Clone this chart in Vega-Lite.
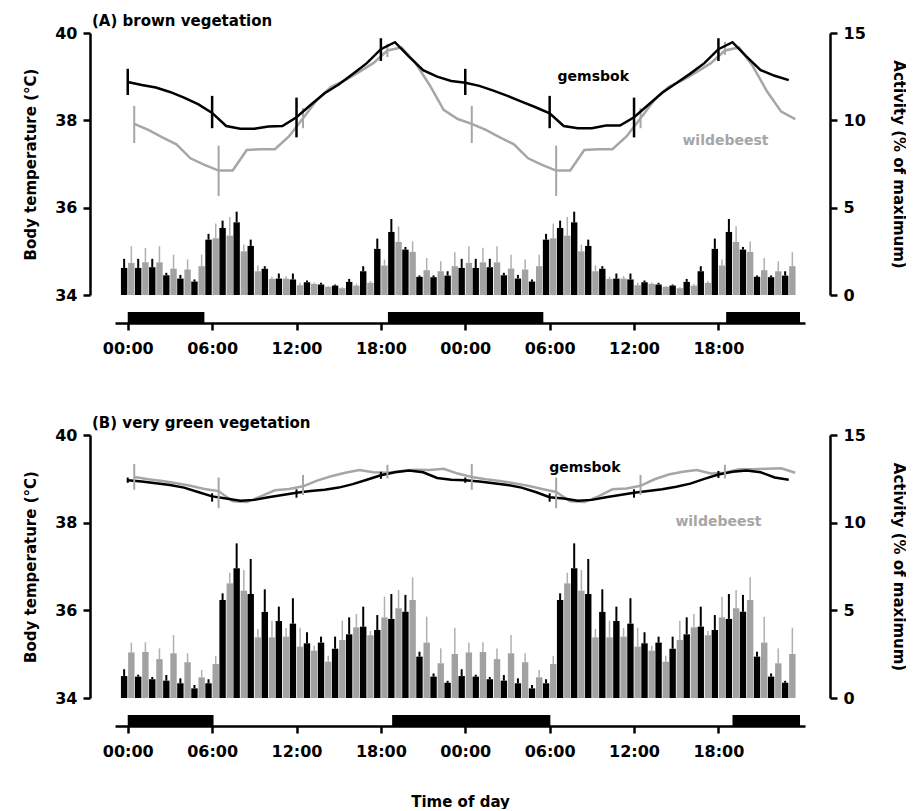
{
  "$schema": "https://vega.github.io/schema/vega-lite/v6.json",
  "padding": {"left": 23, "top": 14, "right": 0, "bottom": 0},
  "spacing": 60,
  "datasets": {
    "actA": [
      {"hour":0,"sp":"gemsbok","act":1.55,"up":2.07},{"hour":1,"sp":"gemsbok","act":1.55,"up":2.07},{"hour":2,"sp":"gemsbok","act":1.59,"up":2.07},{"hour":3,"sp":"gemsbok","act":1.13,"up":1.27},{"hour":4,"sp":"gemsbok","act":0.94,"up":1.15},{"hour":5,"sp":"gemsbok","act":0.77,"up":0.89},{"hour":6,"sp":"gemsbok","act":3.17,"up":3.5},{"hour":7,"sp":"gemsbok","act":3.84,"up":4.26},{"hour":8,"sp":"gemsbok","act":4.16,"up":4.77},{"hour":9,"sp":"gemsbok","act":2.81,"up":3.17},{"hour":10,"sp":"gemsbok","act":1.5,"up":1.65},{"hour":11,"sp":"gemsbok","act":0.94,"up":1.23},{"hour":12,"sp":"gemsbok","act":0.89,"up":1.23},{"hour":13,"sp":"gemsbok","act":0.73,"up":0.83},{"hour":14,"sp":"gemsbok","act":0.6,"up":0.7},{"hour":15,"sp":"gemsbok","act":0.54,"up":0.6},{"hour":16,"sp":"gemsbok","act":0.75,"up":0.92},{"hour":17,"sp":"gemsbok","act":1.36,"up":1.65},{"hour":18,"sp":"gemsbok","act":2.64,"up":3.23},{"hour":19,"sp":"gemsbok","act":3.61,"up":4.35},{"hour":20,"sp":"gemsbok","act":2.6,"up":2.75},{"hour":21,"sp":"gemsbok","act":1.04,"up":1.12},{"hour":22,"sp":"gemsbok","act":1.02,"up":1.12},{"hour":23,"sp":"gemsbok","act":1.11,"up":1.36},
      {"hour":24,"sp":"gemsbok","act":1.55,"up":2.07},{"hour":25,"sp":"gemsbok","act":1.55,"up":2.07},{"hour":26,"sp":"gemsbok","act":1.59,"up":2.07},{"hour":27,"sp":"gemsbok","act":1.13,"up":1.27},{"hour":28,"sp":"gemsbok","act":0.94,"up":1.15},{"hour":29,"sp":"gemsbok","act":0.77,"up":0.89},{"hour":30,"sp":"gemsbok","act":3.17,"up":3.5},{"hour":31,"sp":"gemsbok","act":3.84,"up":4.26},{"hour":32,"sp":"gemsbok","act":4.16,"up":4.77},{"hour":33,"sp":"gemsbok","act":2.81,"up":3.17},{"hour":34,"sp":"gemsbok","act":1.5,"up":1.65},{"hour":35,"sp":"gemsbok","act":0.94,"up":1.23},{"hour":36,"sp":"gemsbok","act":0.89,"up":1.23},{"hour":37,"sp":"gemsbok","act":0.73,"up":0.83},{"hour":38,"sp":"gemsbok","act":0.6,"up":0.7},{"hour":39,"sp":"gemsbok","act":0.54,"up":0.6},{"hour":40,"sp":"gemsbok","act":0.75,"up":0.92},{"hour":41,"sp":"gemsbok","act":1.36,"up":1.65},{"hour":42,"sp":"gemsbok","act":2.64,"up":3.23},{"hour":43,"sp":"gemsbok","act":3.61,"up":4.35},{"hour":44,"sp":"gemsbok","act":2.6,"up":2.75},{"hour":45,"sp":"gemsbok","act":1.04,"up":1.12},{"hour":46,"sp":"gemsbok","act":1.02,"up":1.12},{"hour":47,"sp":"gemsbok","act":1.11,"up":1.36},
      {"hour":0,"sp":"wildebeest","act":1.84,"up":2.79},{"hour":1,"sp":"wildebeest","act":1.87,"up":2.7},{"hour":2,"sp":"wildebeest","act":1.87,"up":2.79},{"hour":3,"sp":"wildebeest","act":1.51,"up":2.31},{"hour":4,"sp":"wildebeest","act":1.46,"up":2.03},{"hour":5,"sp":"wildebeest","act":1.65,"up":2.31},{"hour":6,"sp":"wildebeest","act":3.25,"up":4.09},{"hour":7,"sp":"wildebeest","act":3.4,"up":4.47},{"hour":8,"sp":"wildebeest","act":2.5,"up":2.89},{"hour":9,"sp":"wildebeest","act":1.36,"up":1.69},{"hour":10,"sp":"wildebeest","act":0.92,"up":1.04},{"hour":11,"sp":"wildebeest","act":0.94,"up":1.08},{"hour":12,"sp":"wildebeest","act":0.56,"up":0.7},{"hour":13,"sp":"wildebeest","act":0.64,"up":0.72},{"hour":14,"sp":"wildebeest","act":0.47,"up":0.52},{"hour":15,"sp":"wildebeest","act":0.39,"up":0.45},{"hour":16,"sp":"wildebeest","act":0.54,"up":0.65},{"hour":17,"sp":"wildebeest","act":0.7,"up":0.8},{"hour":18,"sp":"wildebeest","act":1.69,"up":2.03},{"hour":19,"sp":"wildebeest","act":3.04,"up":3.93},{"hour":20,"sp":"wildebeest","act":2.47,"up":3.07},{"hour":21,"sp":"wildebeest","act":1.42,"up":2.12},{"hour":22,"sp":"wildebeest","act":1.36,"up":1.93},{"hour":23,"sp":"wildebeest","act":1.65,"up":2.45},
      {"hour":24,"sp":"wildebeest","act":1.84,"up":2.79},{"hour":25,"sp":"wildebeest","act":1.87,"up":2.7},{"hour":26,"sp":"wildebeest","act":1.87,"up":2.79},{"hour":27,"sp":"wildebeest","act":1.51,"up":2.31},{"hour":28,"sp":"wildebeest","act":1.46,"up":2.03},{"hour":29,"sp":"wildebeest","act":1.65,"up":2.31},{"hour":30,"sp":"wildebeest","act":3.25,"up":4.09},{"hour":31,"sp":"wildebeest","act":3.4,"up":4.47},{"hour":32,"sp":"wildebeest","act":2.5,"up":2.89},{"hour":33,"sp":"wildebeest","act":1.36,"up":1.69},{"hour":34,"sp":"wildebeest","act":0.92,"up":1.04},{"hour":35,"sp":"wildebeest","act":0.94,"up":1.08},{"hour":36,"sp":"wildebeest","act":0.56,"up":0.7},{"hour":37,"sp":"wildebeest","act":0.64,"up":0.72},{"hour":38,"sp":"wildebeest","act":0.47,"up":0.52},{"hour":39,"sp":"wildebeest","act":0.39,"up":0.45},{"hour":40,"sp":"wildebeest","act":0.54,"up":0.65},{"hour":41,"sp":"wildebeest","act":0.7,"up":0.8},{"hour":42,"sp":"wildebeest","act":1.69,"up":2.03},{"hour":43,"sp":"wildebeest","act":3.04,"up":3.93},{"hour":44,"sp":"wildebeest","act":2.47,"up":3.07},{"hour":45,"sp":"wildebeest","act":1.42,"up":2.12},{"hour":46,"sp":"wildebeest","act":1.36,"up":1.93},{"hour":47,"sp":"wildebeest","act":1.65,"up":2.45}
    ],
    "actB": [
      {"hour":0,"sp":"gemsbok","act":1.25,"up":1.64},{"hour":1,"sp":"gemsbok","act":1.22,"up":1.33},{"hour":2,"sp":"gemsbok","act":1.07,"up":1.2},{"hour":3,"sp":"gemsbok","act":0.99,"up":1.31},{"hour":4,"sp":"gemsbok","act":0.84,"up":1.12},{"hour":5,"sp":"gemsbok","act":0.55,"up":0.74},{"hour":6,"sp":"gemsbok","act":0.84,"up":1.07},{"hour":7,"sp":"gemsbok","act":5.59,"up":5.97},{"hour":8,"sp":"gemsbok","act":7.4,"up":8.82},{"hour":9,"sp":"gemsbok","act":5.93,"up":7.93},{"hour":10,"sp":"gemsbok","act":4.91,"up":6.2},{"hour":11,"sp":"gemsbok","act":4.39,"up":5.21},{"hour":12,"sp":"gemsbok","act":4.24,"up":5.69},{"hour":13,"sp":"gemsbok","act":3.12,"up":3.75},{"hour":14,"sp":"gemsbok","act":3.16,"up":3.5},{"hour":15,"sp":"gemsbok","act":2.81,"up":3.5},{"hour":16,"sp":"gemsbok","act":3.63,"up":4.6},{"hour":17,"sp":"gemsbok","act":4.07,"up":5.21},{"hour":18,"sp":"gemsbok","act":3.88,"up":4.73},{"hour":19,"sp":"gemsbok","act":4.51,"up":5.93},{"hour":20,"sp":"gemsbok","act":4.92,"up":5.88},{"hour":21,"sp":"gemsbok","act":2.36,"up":2.64},{"hour":22,"sp":"gemsbok","act":1.22,"up":1.4},{"hour":23,"sp":"gemsbok","act":0.87,"up":0.98},
      {"hour":24,"sp":"gemsbok","act":1.25,"up":1.64},{"hour":25,"sp":"gemsbok","act":1.22,"up":1.33},{"hour":26,"sp":"gemsbok","act":1.07,"up":1.2},{"hour":27,"sp":"gemsbok","act":0.99,"up":1.31},{"hour":28,"sp":"gemsbok","act":0.84,"up":1.12},{"hour":29,"sp":"gemsbok","act":0.55,"up":0.74},{"hour":30,"sp":"gemsbok","act":0.84,"up":1.07},{"hour":31,"sp":"gemsbok","act":5.59,"up":5.97},{"hour":32,"sp":"gemsbok","act":7.4,"up":8.82},{"hour":33,"sp":"gemsbok","act":5.93,"up":7.93},{"hour":34,"sp":"gemsbok","act":4.91,"up":6.2},{"hour":35,"sp":"gemsbok","act":4.39,"up":5.21},{"hour":36,"sp":"gemsbok","act":4.24,"up":5.69},{"hour":37,"sp":"gemsbok","act":3.12,"up":3.75},{"hour":38,"sp":"gemsbok","act":3.16,"up":3.5},{"hour":39,"sp":"gemsbok","act":2.81,"up":3.5},{"hour":40,"sp":"gemsbok","act":3.63,"up":4.6},{"hour":41,"sp":"gemsbok","act":4.07,"up":5.21},{"hour":42,"sp":"gemsbok","act":3.88,"up":4.73},{"hour":43,"sp":"gemsbok","act":4.51,"up":5.93},{"hour":44,"sp":"gemsbok","act":4.92,"up":5.88},{"hour":45,"sp":"gemsbok","act":2.36,"up":2.64},{"hour":46,"sp":"gemsbok","act":1.22,"up":1.4},{"hour":47,"sp":"gemsbok","act":0.87,"up":0.98},
      {"hour":0,"sp":"wildebeest","act":2.6,"up":3.16},{"hour":1,"sp":"wildebeest","act":2.62,"up":3.18},{"hour":2,"sp":"wildebeest","act":2.22,"up":2.83},{"hour":3,"sp":"wildebeest","act":2.55,"up":3.59},{"hour":4,"sp":"wildebeest","act":2.04,"up":2.55},{"hour":5,"sp":"wildebeest","act":1.18,"up":1.6},{"hour":6,"sp":"wildebeest","act":1.94,"up":2.4},{"hour":7,"sp":"wildebeest","act":6.54,"up":7.15},{"hour":8,"sp":"wildebeest","act":6.12,"up":7.3},{"hour":9,"sp":"wildebeest","act":3.46,"up":3.94},{"hour":10,"sp":"wildebeest","act":3.46,"up":4.41},{"hour":11,"sp":"wildebeest","act":3.5,"up":3.99},{"hour":12,"sp":"wildebeest","act":2.93,"up":4.01},{"hour":13,"sp":"wildebeest","act":2.7,"up":2.98},{"hour":14,"sp":"wildebeest","act":2.07,"up":2.41},{"hour":15,"sp":"wildebeest","act":3.31,"up":4.41},{"hour":16,"sp":"wildebeest","act":4.03,"up":4.79},{"hour":17,"sp":"wildebeest","act":3.58,"up":3.82},{"hour":18,"sp":"wildebeest","act":4.6,"up":5.78},{"hour":19,"sp":"wildebeest","act":5.12,"up":6.16},{"hour":20,"sp":"wildebeest","act":5.59,"up":6.88},{"hour":21,"sp":"wildebeest","act":3.16,"up":4.64},{"hour":22,"sp":"wildebeest","act":1.98,"up":2.83},{"hour":23,"sp":"wildebeest","act":2.51,"up":4.01},
      {"hour":24,"sp":"wildebeest","act":2.6,"up":3.16},{"hour":25,"sp":"wildebeest","act":2.62,"up":3.18},{"hour":26,"sp":"wildebeest","act":2.22,"up":2.83},{"hour":27,"sp":"wildebeest","act":2.55,"up":3.59},{"hour":28,"sp":"wildebeest","act":2.04,"up":2.55},{"hour":29,"sp":"wildebeest","act":1.18,"up":1.6},{"hour":30,"sp":"wildebeest","act":1.94,"up":2.4},{"hour":31,"sp":"wildebeest","act":6.54,"up":7.15},{"hour":32,"sp":"wildebeest","act":6.12,"up":7.3},{"hour":33,"sp":"wildebeest","act":3.46,"up":3.94},{"hour":34,"sp":"wildebeest","act":3.46,"up":4.41},{"hour":35,"sp":"wildebeest","act":3.5,"up":3.99},{"hour":36,"sp":"wildebeest","act":2.93,"up":4.01},{"hour":37,"sp":"wildebeest","act":2.7,"up":2.98},{"hour":38,"sp":"wildebeest","act":2.07,"up":2.41},{"hour":39,"sp":"wildebeest","act":3.31,"up":4.41},{"hour":40,"sp":"wildebeest","act":4.03,"up":4.79},{"hour":41,"sp":"wildebeest","act":3.58,"up":3.82},{"hour":42,"sp":"wildebeest","act":4.6,"up":5.78},{"hour":43,"sp":"wildebeest","act":5.12,"up":6.16},{"hour":44,"sp":"wildebeest","act":5.59,"up":6.88},{"hour":45,"sp":"wildebeest","act":3.16,"up":4.64},{"hour":46,"sp":"wildebeest","act":1.98,"up":2.83},{"hour":47,"sp":"wildebeest","act":2.51,"up":4.01}
    ],
    "tbA": [
      {"hour":0,"sp":"gemsbok","tb":38.88,"lo":38.58,"hi":39.18},{"hour":1,"sp":"gemsbok","tb":38.81},{"hour":2,"sp":"gemsbok","tb":38.75},{"hour":3,"sp":"gemsbok","tb":38.65},{"hour":4,"sp":"gemsbok","tb":38.52},{"hour":5,"sp":"gemsbok","tb":38.37},{"hour":6,"sp":"gemsbok","tb":38.17,"lo":37.82,"hi":38.56},{"hour":7,"sp":"gemsbok","tb":37.87},{"hour":8,"sp":"gemsbok","tb":37.81},{"hour":9,"sp":"gemsbok","tb":37.81},{"hour":10,"sp":"gemsbok","tb":37.86},{"hour":11,"sp":"gemsbok","tb":37.87},{"hour":12,"sp":"gemsbok","tb":38.07,"lo":37.61,"hi":38.52},{"hour":13,"sp":"gemsbok","tb":38.35},{"hour":14,"sp":"gemsbok","tb":38.62},{"hour":15,"sp":"gemsbok","tb":38.82},{"hour":16,"sp":"gemsbok","tb":39.06},{"hour":17,"sp":"gemsbok","tb":39.31},{"hour":18,"sp":"gemsbok","tb":39.63,"lo":39.36,"hi":39.88},{"hour":19,"sp":"gemsbok","tb":39.79},{"hour":20,"sp":"gemsbok","tb":39.46},{"hour":21,"sp":"gemsbok","tb":39.15},{"hour":22,"sp":"gemsbok","tb":39.0},{"hour":23,"sp":"gemsbok","tb":38.9},
      {"hour":24,"sp":"gemsbok","tb":38.86,"lo":38.58,"hi":39.18},{"hour":25,"sp":"gemsbok","tb":38.79},{"hour":26,"sp":"gemsbok","tb":38.68},{"hour":27,"sp":"gemsbok","tb":38.56},{"hour":28,"sp":"gemsbok","tb":38.43},{"hour":29,"sp":"gemsbok","tb":38.3},{"hour":30,"sp":"gemsbok","tb":38.16,"lo":37.82,"hi":38.56},{"hour":31,"sp":"gemsbok","tb":37.87},{"hour":32,"sp":"gemsbok","tb":37.82},{"hour":33,"sp":"gemsbok","tb":37.82},{"hour":34,"sp":"gemsbok","tb":37.88},{"hour":35,"sp":"gemsbok","tb":37.88},{"hour":36,"sp":"gemsbok","tb":38.07,"lo":37.61,"hi":38.52},{"hour":37,"sp":"gemsbok","tb":38.35},{"hour":38,"sp":"gemsbok","tb":38.63},{"hour":39,"sp":"gemsbok","tb":38.85},{"hour":40,"sp":"gemsbok","tb":39.07},{"hour":41,"sp":"gemsbok","tb":39.31},{"hour":42,"sp":"gemsbok","tb":39.63,"lo":39.36,"hi":39.88},{"hour":43,"sp":"gemsbok","tb":39.79},{"hour":44,"sp":"gemsbok","tb":39.46},{"hour":45,"sp":"gemsbok","tb":39.15},{"hour":46,"sp":"gemsbok","tb":39.02},{"hour":47,"sp":"gemsbok","tb":38.92},
      {"hour":0,"sp":"wildebeest","tb":37.92,"lo":37.48,"hi":38.33},{"hour":1,"sp":"wildebeest","tb":37.78},{"hour":2,"sp":"wildebeest","tb":37.61},{"hour":3,"sp":"wildebeest","tb":37.45},{"hour":4,"sp":"wildebeest","tb":37.13},{"hour":5,"sp":"wildebeest","tb":36.98},{"hour":6,"sp":"wildebeest","tb":36.85,"lo":36.27,"hi":37.42},{"hour":7,"sp":"wildebeest","tb":36.85},{"hour":8,"sp":"wildebeest","tb":37.32},{"hour":9,"sp":"wildebeest","tb":37.34},{"hour":10,"sp":"wildebeest","tb":37.34},{"hour":11,"sp":"wildebeest","tb":37.63},{"hour":12,"sp":"wildebeest","tb":38.05,"lo":37.82,"hi":38.28},{"hour":13,"sp":"wildebeest","tb":38.47},{"hour":14,"sp":"wildebeest","tb":38.77},{"hour":15,"sp":"wildebeest","tb":38.92},{"hour":16,"sp":"wildebeest","tb":39.11},{"hour":17,"sp":"wildebeest","tb":39.31},{"hour":18,"sp":"wildebeest","tb":39.6,"lo":39.45,"hi":39.75},{"hour":19,"sp":"wildebeest","tb":39.67},{"hour":20,"sp":"wildebeest","tb":39.31},{"hour":21,"sp":"wildebeest","tb":38.81},{"hour":22,"sp":"wildebeest","tb":38.24},{"hour":23,"sp":"wildebeest","tb":38.03},
      {"hour":24,"sp":"wildebeest","tb":37.92,"lo":37.48,"hi":38.33},{"hour":25,"sp":"wildebeest","tb":37.78},{"hour":26,"sp":"wildebeest","tb":37.61},{"hour":27,"sp":"wildebeest","tb":37.45},{"hour":28,"sp":"wildebeest","tb":37.13},{"hour":29,"sp":"wildebeest","tb":36.98},{"hour":30,"sp":"wildebeest","tb":36.85,"lo":36.27,"hi":37.42},{"hour":31,"sp":"wildebeest","tb":36.85},{"hour":32,"sp":"wildebeest","tb":37.32},{"hour":33,"sp":"wildebeest","tb":37.34},{"hour":34,"sp":"wildebeest","tb":37.34},{"hour":35,"sp":"wildebeest","tb":37.63},{"hour":36,"sp":"wildebeest","tb":38.05,"lo":37.82,"hi":38.28},{"hour":37,"sp":"wildebeest","tb":38.47},{"hour":38,"sp":"wildebeest","tb":38.77},{"hour":39,"sp":"wildebeest","tb":38.92},{"hour":40,"sp":"wildebeest","tb":39.11},{"hour":41,"sp":"wildebeest","tb":39.31},{"hour":42,"sp":"wildebeest","tb":39.6,"lo":39.5,"hi":39.8},{"hour":43,"sp":"wildebeest","tb":39.67},{"hour":44,"sp":"wildebeest","tb":39.23},{"hour":45,"sp":"wildebeest","tb":38.66},{"hour":46,"sp":"wildebeest","tb":38.2},{"hour":47,"sp":"wildebeest","tb":38.03}
    ],
    "tbB": [
      {"hour":0,"sp":"gemsbok","tb":38.97,"lo":38.91,"hi":39.03},{"hour":1,"sp":"gemsbok","tb":38.94},{"hour":2,"sp":"gemsbok","tb":38.9},{"hour":3,"sp":"gemsbok","tb":38.86},{"hour":4,"sp":"gemsbok","tb":38.8},{"hour":5,"sp":"gemsbok","tb":38.7},{"hour":6,"sp":"gemsbok","tb":38.6,"lo":38.48,"hi":38.67},{"hour":7,"sp":"gemsbok","tb":38.55},{"hour":8,"sp":"gemsbok","tb":38.5},{"hour":9,"sp":"gemsbok","tb":38.52},{"hour":10,"sp":"gemsbok","tb":38.58},{"hour":11,"sp":"gemsbok","tb":38.63},{"hour":12,"sp":"gemsbok","tb":38.68,"lo":38.57,"hi":38.76},{"hour":13,"sp":"gemsbok","tb":38.72},{"hour":14,"sp":"gemsbok","tb":38.75},{"hour":15,"sp":"gemsbok","tb":38.8},{"hour":16,"sp":"gemsbok","tb":38.88},{"hour":17,"sp":"gemsbok","tb":38.98},{"hour":18,"sp":"gemsbok","tb":39.08,"lo":39.0,"hi":39.16},{"hour":19,"sp":"gemsbok","tb":39.15},{"hour":20,"sp":"gemsbok","tb":39.19},{"hour":21,"sp":"gemsbok","tb":39.15},{"hour":22,"sp":"gemsbok","tb":39.02},{"hour":23,"sp":"gemsbok","tb":38.98},
      {"hour":24,"sp":"gemsbok","tb":38.97,"lo":38.91,"hi":39.03},{"hour":25,"sp":"gemsbok","tb":38.94},{"hour":26,"sp":"gemsbok","tb":38.9},{"hour":27,"sp":"gemsbok","tb":38.86},{"hour":28,"sp":"gemsbok","tb":38.8},{"hour":29,"sp":"gemsbok","tb":38.7},{"hour":30,"sp":"gemsbok","tb":38.58,"lo":38.48,"hi":38.67},{"hour":31,"sp":"gemsbok","tb":38.55},{"hour":32,"sp":"gemsbok","tb":38.5},{"hour":33,"sp":"gemsbok","tb":38.52},{"hour":34,"sp":"gemsbok","tb":38.58},{"hour":35,"sp":"gemsbok","tb":38.63},{"hour":36,"sp":"gemsbok","tb":38.68,"lo":38.57,"hi":38.76},{"hour":37,"sp":"gemsbok","tb":38.72},{"hour":38,"sp":"gemsbok","tb":38.76},{"hour":39,"sp":"gemsbok","tb":38.82},{"hour":40,"sp":"gemsbok","tb":38.89},{"hour":41,"sp":"gemsbok","tb":39.0},{"hour":42,"sp":"gemsbok","tb":39.1,"lo":39.02,"hi":39.18},{"hour":43,"sp":"gemsbok","tb":39.16},{"hour":44,"sp":"gemsbok","tb":39.19},{"hour":45,"sp":"gemsbok","tb":39.15},{"hour":46,"sp":"gemsbok","tb":39.03},{"hour":47,"sp":"gemsbok","tb":38.98},
      {"hour":0,"sp":"wildebeest","tb":39.04,"lo":38.75,"hi":39.34},{"hour":1,"sp":"wildebeest","tb":38.99},{"hour":2,"sp":"wildebeest","tb":38.95},{"hour":3,"sp":"wildebeest","tb":38.9},{"hour":4,"sp":"wildebeest","tb":38.84},{"hour":5,"sp":"wildebeest","tb":38.77},{"hour":6,"sp":"wildebeest","tb":38.72,"lo":38.33,"hi":39.03},{"hour":7,"sp":"wildebeest","tb":38.49},{"hour":8,"sp":"wildebeest","tb":38.47},{"hour":9,"sp":"wildebeest","tb":38.6},{"hour":10,"sp":"wildebeest","tb":38.74},{"hour":11,"sp":"wildebeest","tb":38.77},{"hour":12,"sp":"wildebeest","tb":38.83,"lo":38.63,"hi":39.09},{"hour":13,"sp":"wildebeest","tb":38.96},{"hour":14,"sp":"wildebeest","tb":39.06},{"hour":15,"sp":"wildebeest","tb":39.14},{"hour":16,"sp":"wildebeest","tb":39.2},{"hour":17,"sp":"wildebeest","tb":39.15},{"hour":18,"sp":"wildebeest","tb":39.14,"lo":39.01,"hi":39.32},{"hour":19,"sp":"wildebeest","tb":39.18},{"hour":20,"sp":"wildebeest","tb":39.21},{"hour":21,"sp":"wildebeest","tb":39.2},{"hour":22,"sp":"wildebeest","tb":39.23},{"hour":23,"sp":"wildebeest","tb":39.12},
      {"hour":24,"sp":"wildebeest","tb":39.04,"lo":38.75,"hi":39.34},{"hour":25,"sp":"wildebeest","tb":38.99},{"hour":26,"sp":"wildebeest","tb":38.95},{"hour":27,"sp":"wildebeest","tb":38.9},{"hour":28,"sp":"wildebeest","tb":38.84},{"hour":29,"sp":"wildebeest","tb":38.77},{"hour":30,"sp":"wildebeest","tb":38.7,"lo":38.33,"hi":39.03},{"hour":31,"sp":"wildebeest","tb":38.49},{"hour":32,"sp":"wildebeest","tb":38.47},{"hour":33,"sp":"wildebeest","tb":38.6},{"hour":34,"sp":"wildebeest","tb":38.76},{"hour":35,"sp":"wildebeest","tb":38.78},{"hour":36,"sp":"wildebeest","tb":38.84,"lo":38.63,"hi":39.09},{"hour":37,"sp":"wildebeest","tb":38.99},{"hour":38,"sp":"wildebeest","tb":39.1},{"hour":39,"sp":"wildebeest","tb":39.16},{"hour":40,"sp":"wildebeest","tb":39.2},{"hour":41,"sp":"wildebeest","tb":39.12},{"hour":42,"sp":"wildebeest","tb":39.14,"lo":39.01,"hi":39.32},{"hour":43,"sp":"wildebeest","tb":39.22},{"hour":44,"sp":"wildebeest","tb":39.22},{"hour":45,"sp":"wildebeest","tb":39.23},{"hour":46,"sp":"wildebeest","tb":39.24},{"hour":47,"sp":"wildebeest","tb":39.14}
    ],
    "nightA": [{"start":0,"end":5.45},{"start":18.5,"end":29.55},{"start":42.55,"end":47.8}],
    "nightB": [{"start":0,"end":6.1},{"start":18.8,"end":30.05},{"start":43.0,"end":47.8}]
  },
  "vconcat": [
    {
      "title": {"text": "(A) brown vegetation", "anchor": "start", "frame": "group", "dx": -23, "offset": -4, "fontSize": 15, "fontWeight": "bold", "font": "DejaVu Sans", "color": "black"},
      "width": 690,
      "height": 262,
      "layer": [
        {
          "data": {"name": "actA"},
          "encoding": {
            "x": {"field": "hour", "type": "quantitative", "scale": {"domain": [-0.55, 47.8], "nice": false, "zero": false}, "title": null},
            "y": {"field": "act", "type": "quantitative", "scale": {"domain": [0, 15], "nice": false}, "title": "Activity (% of maximum)", "axis": {"orient": "right", "values": [0, 5, 10, 15], "offset": 25, "labelPadding": 6, "titlePadding": 25}}
          },
          "layer": [
            {"transform": [{"filter": "datum.sp == 'gemsbok'"}], "mark": {"type": "rule", "color": "black", "strokeWidth": 2, "xOffset": -3.6}, "encoding": {"y2": {"field": "up"}}},
            {"transform": [{"filter": "datum.sp == 'wildebeest'"}], "mark": {"type": "rule", "color": "#b0b0b0", "strokeWidth": 1.5, "xOffset": 3.6}, "encoding": {"y2": {"field": "up"}}},
            {"transform": [{"filter": "datum.sp == 'gemsbok'"}], "mark": {"type": "bar", "orient": "vertical", "color": "black", "size": 6.4, "xOffset": -3.6}},
            {"transform": [{"filter": "datum.sp == 'wildebeest'"}], "mark": {"type": "bar", "orient": "vertical", "color": "#a2a2a5", "size": 6.4, "xOffset": 3.6}}
          ]
        },
        {
          "layer": [
            {
              "data": {"name": "nightA"},
              "mark": {"type": "rect", "color": "black"},
              "encoding": {
                "x": {"field": "start", "type": "quantitative", "scale": {"domain": [-0.55, 47.8], "nice": false, "zero": false}, "title": null},
                "x2": {"field": "end"},
                "y": {"datum": 33.36, "type": "quantitative", "scale": {"domain": [34, 40], "nice": false, "zero": false}, "title": "Body temperature (°C)"},
                "y2": {"datum": 33.61}
              }
            },
            {
              "data": {"name": "tbA"},
              "encoding": {
                "x": {"field": "hour", "type": "quantitative", "scale": {"domain": [-0.55, 47.8], "nice": false, "zero": false}, "title": null, "axis": {"values": [0, 6, 12, 18, 24, 30, 36, 42], "labelExpr": "(datum.value % 24 < 10 ? '0' : '') + (datum.value % 24) + ':00'", "offset": 28, "labelPadding": 10}},
                "y": {"field": "tb", "type": "quantitative", "scale": {"domain": [34, 40], "nice": false, "zero": false}, "title": "Body temperature (°C)", "axis": {"orient": "left", "values": [34, 36, 38, 40], "offset": 25, "labelPadding": 6, "titlePadding": 16}}
              },
              "layer": [
                {"transform": [{"filter": "datum.sp == 'wildebeest'"}], "mark": {"type": "line", "color": "#a6a6a6", "strokeWidth": 2.5, "xOffset": 6.5}},
                {"transform": [{"filter": "datum.sp == 'wildebeest' && isValid(datum.lo)"}], "mark": {"type": "rule", "color": "#a6a6a6", "strokeWidth": 2, "xOffset": 6.5}, "encoding": {"y": {"field": "lo", "type": "quantitative", "title": "Body temperature (°C)"}, "y2": {"field": "hi"}}},
                {"transform": [{"filter": "datum.sp == 'gemsbok'"}], "mark": {"type": "line", "color": "black", "strokeWidth": 2.5}},
                {"transform": [{"filter": "datum.sp == 'gemsbok' && isValid(datum.lo)"}], "mark": {"type": "rule", "color": "black", "strokeWidth": 2.5}, "encoding": {"y": {"field": "lo", "type": "quantitative", "title": "Body temperature (°C)"}, "y2": {"field": "hi"}}}
              ]
            },
            {
              "data": {"values": [{}]},
              "mark": {"type": "text", "font": "DejaVu Sans", "fontWeight": "bold", "fontSize": 14, "color": "black", "align": "center", "baseline": "middle"},
              "encoding": {"x": {"datum": 33.1, "type": "quantitative"}, "y": {"datum": 38.99, "type": "quantitative"}, "text": {"value": "gemsbok"}}
            },
            {
              "data": {"values": [{}]},
              "mark": {"type": "text", "font": "DejaVu Sans", "fontWeight": "bold", "fontSize": 14, "color": "#a6a6a6", "align": "center", "baseline": "middle"},
              "encoding": {"x": {"datum": 42.5, "type": "quantitative"}, "y": {"datum": 37.53, "type": "quantitative"}, "text": {"value": "wildebeest"}}
            }
          ]
        }
      ],
      "resolve": {"scale": {"y": "independent"}}
    },
    {
      "title": {"text": "(B) very green vegetation", "anchor": "start", "frame": "group", "dx": -23, "offset": -4, "fontSize": 15, "fontWeight": "bold", "font": "DejaVu Sans", "color": "black"},
      "width": 690,
      "height": 263,
      "layer": [
        {
          "data": {"name": "actB"},
          "encoding": {
            "x": {"field": "hour", "type": "quantitative", "scale": {"domain": [-0.55, 47.8], "nice": false, "zero": false}, "title": "Time of day"},
            "y": {"field": "act", "type": "quantitative", "scale": {"domain": [0, 15], "nice": false}, "title": "Activity (% of maximum)", "axis": {"orient": "right", "values": [0, 5, 10, 15], "offset": 25, "labelPadding": 6, "titlePadding": 25}}
          },
          "layer": [
            {"transform": [{"filter": "datum.sp == 'gemsbok'"}], "mark": {"type": "rule", "color": "black", "strokeWidth": 2, "xOffset": -3.6}, "encoding": {"y2": {"field": "up"}}},
            {"transform": [{"filter": "datum.sp == 'wildebeest'"}], "mark": {"type": "rule", "color": "#b0b0b0", "strokeWidth": 1.5, "xOffset": 3.6}, "encoding": {"y2": {"field": "up"}}},
            {"transform": [{"filter": "datum.sp == 'gemsbok'"}], "mark": {"type": "bar", "orient": "vertical", "color": "black", "size": 6.4, "xOffset": -3.6}},
            {"transform": [{"filter": "datum.sp == 'wildebeest'"}], "mark": {"type": "bar", "orient": "vertical", "color": "#a2a2a5", "size": 6.4, "xOffset": 3.6}}
          ]
        },
        {
          "layer": [
            {
              "data": {"name": "nightB"},
              "mark": {"type": "rect", "color": "black"},
              "encoding": {
                "x": {"field": "start", "type": "quantitative", "scale": {"domain": [-0.55, 47.8], "nice": false, "zero": false}, "title": "Time of day"},
                "x2": {"field": "end"},
                "y": {"datum": 33.36, "type": "quantitative", "scale": {"domain": [34, 40], "nice": false, "zero": false}, "title": "Body temperature (°C)"},
                "y2": {"datum": 33.61}
              }
            },
            {
              "data": {"name": "tbB"},
              "encoding": {
                "x": {"field": "hour", "type": "quantitative", "scale": {"domain": [-0.55, 47.8], "nice": false, "zero": false}, "title": "Time of day", "axis": {"values": [0, 6, 12, 18, 24, 30, 36, 42], "labelExpr": "(datum.value % 24 < 10 ? '0' : '') + (datum.value % 24) + ':00'", "offset": 28, "labelPadding": 10, "titlePadding": 35}},
                "y": {"field": "tb", "type": "quantitative", "scale": {"domain": [34, 40], "nice": false, "zero": false}, "title": "Body temperature (°C)", "axis": {"orient": "left", "values": [34, 36, 38, 40], "offset": 25, "labelPadding": 6, "titlePadding": 16}}
              },
              "layer": [
                {"transform": [{"filter": "datum.sp == 'wildebeest'"}], "mark": {"type": "line", "color": "#a6a6a6", "strokeWidth": 2.5, "xOffset": 6.5}},
                {"transform": [{"filter": "datum.sp == 'gemsbok'"}], "mark": {"type": "line", "color": "black", "strokeWidth": 2.5}},
                {"transform": [{"filter": "datum.sp == 'gemsbok' && isValid(datum.lo)"}], "mark": {"type": "rule", "color": "black", "strokeWidth": 2}, "encoding": {"y": {"field": "lo", "type": "quantitative", "title": "Body temperature (°C)"}, "y2": {"field": "hi"}}},
                {"transform": [{"filter": "datum.sp == 'wildebeest' && isValid(datum.lo)"}], "mark": {"type": "rule", "color": "#a6a6a6", "strokeWidth": 2, "xOffset": 6.5}, "encoding": {"y": {"field": "lo", "type": "quantitative", "title": "Body temperature (°C)"}, "y2": {"field": "hi"}}}
              ]
            },
            {
              "data": {"values": [{}]},
              "mark": {"type": "text", "font": "DejaVu Sans", "fontWeight": "bold", "fontSize": 14, "color": "black", "align": "center", "baseline": "middle"},
              "encoding": {"x": {"datum": 32.5, "type": "quantitative"}, "y": {"datum": 39.25, "type": "quantitative"}, "text": {"value": "gemsbok"}}
            },
            {
              "data": {"values": [{}]},
              "mark": {"type": "text", "font": "DejaVu Sans", "fontWeight": "bold", "fontSize": 14, "color": "#a6a6a6", "align": "center", "baseline": "middle"},
              "encoding": {"x": {"datum": 42.0, "type": "quantitative"}, "y": {"datum": 38.01, "type": "quantitative"}, "text": {"value": "wildebeest"}}
            }
          ]
        }
      ],
      "resolve": {"scale": {"y": "independent"}}
    }
  ],
  "config": {
    "font": "DejaVu Sans",
    "view": {"stroke": null},
    "axis": {
      "grid": false,
      "domainColor": "black",
      "domainWidth": 2.5,
      "tickColor": "black",
      "tickWidth": 2.5,
      "tickSize": 7,
      "labelFont": "DejaVu Sans",
      "labelFontWeight": "bold",
      "labelFontSize": 16,
      "labelColor": "black",
      "titleFont": "DejaVu Sans",
      "titleFontWeight": "bold",
      "titleFontSize": 15,
      "titleColor": "black"
    }
  }
}
